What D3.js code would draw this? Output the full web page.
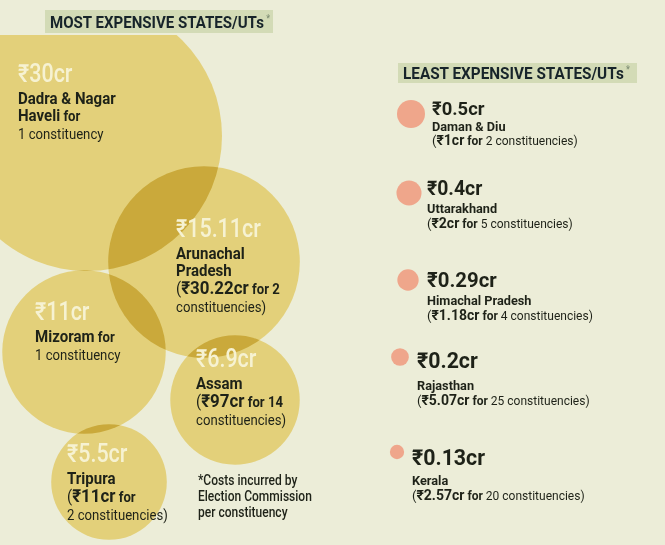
<!DOCTYPE html>
<html>
<head>
<meta charset="utf-8">
<script src="https://cdnjs.cloudflare.com/ajax/libs/d3/7.8.5/d3.min.js"></script>
<style>
  body { margin: 0; background: #ecedd8; }
  svg { display: block; font-family: Roboto, "Noto Sans", sans-serif; }
</style>
</head>
<body>
<div id="chart"></div>
<script>
const width = 665;
const height = 545;

// most expensive states/UTs: cost per constituency (₹ crore)
const bigStates = ["Dadra & Nagar Haveli", "Arunachal Pradesh", "Mizoram", "Assam", "Tripura"];
const bigCost = [30, 15.11, 11, 6.9, 5.5];
const bigTotal = [30, 30.22, 11, 97, 11];
const bigSeats = [1, 2, 1, 14, 2];

// least expensive states/UTs
const smallStates = ["Daman & Diu", "Uttarakhand", "Himachal Pradesh", "Rajasthan", "Kerala"];
const smallCost = [0.5, 0.4, 0.29, 0.2, 0.13];
const smallTotal = [1, 2, 1.18, 5.07, 2.57];
const smallSeats = [2, 5, 4, 25, 20];

// hand placed layout (where the bubbles sit, where labels go)
const bigLayout = [
  { cx: 87, cy: 136, lx: 18, ly: 82, nameLines: ["Dadra & Nagar", "Haveli"], style: "single" },
  { cx: 204, cy: 262, lx: 176, ly: 237, nameLines: ["Arunachal", "Pradesh"], style: "split" },
  { cx: 84, cy: 352, lx: 35, ly: 320, nameLines: ["Mizoram"], style: "single" },
  { cx: 235, cy: 400, lx: 196, ly: 367, nameLines: ["Assam"], style: "split" },
  { cx: 109, cy: 482, lx: 67, ly: 462, nameLines: ["Tripura"], style: "split2" }
];
const smallLayout = [
  { cx: 411, cy: 114, lx: 432, ys: [115, 131, 145], vSize: 19 },
  { cx: 409, cy: 193, lx: 427, ys: [195, 213, 228], vSize: 20 },
  { cx: 408, cy: 280, lx: 427, ys: [287, 305, 320], vSize: 21 },
  { cx: 400, cy: 357, lx: 417, ys: [368, 390, 405], vSize: 22 },
  { cx: 397, cy: 452, lx: 412, ys: [465, 485, 500], vSize: 22 }
];

const dark = "#1e2218";
const light = "#f6f2d2";
const fmt = v => `₹${v}cr`;
const seatsText = n => n === 1 ? `${n} constituency` : `${n} constituencies`;

const rBig = d3.scaleSqrt().domain([0, d3.max(bigCost)]).range([0, 135]);
const rSmall = d3.scaleSqrt().domain([0, d3.max(smallCost)]).range([0, 14]);

const svg = d3.select("#chart")
  .append("svg")
  .attr("width", width)
  .attr("height", height);

svg.append("rect")
  .attr("width", width)
  .attr("height", height)
  .attr("fill", "#ecedd8");

svg.append("clipPath")
  .attr("id", "clipBig")
  .append("rect")
  .attr("x", 0)
  .attr("y", 35)
  .attr("width", width)
  .attr("height", height - 35);

const bubbles = svg.append("g")
  .attr("clip-path", "url(#clipBig)")
  .style("isolation", "isolate");

bubbles.selectAll("circle")
  .data(bigCost)
  .join("circle")
  .attr("cx", (d, i) => bigLayout[i].cx)
  .attr("cy", (d, i) => bigLayout[i].cy)
  .attr("r", d => rBig(d))
  .attr("fill", "#e3d07a")
  .style("mix-blend-mode", "multiply");

// one line of text, parts = [{text, size, weight, fill}]
function addLine(g, x, y, parts, sx) {
  const t = g.append("text")
    .attr("transform", `translate(${x},${y}) scale(${sx},1)`);
  parts.forEach(p => {
    t.append("tspan")
      .attr("font-size", p.size)
      .attr("font-weight", p.weight || 400)
      .attr("fill", p.fill || dark)
      .text(p.text);
  });
  return t;
}

const labels = svg.append("g");

bigCost.forEach((v, i) => {
  const L = bigLayout[i];
  let y = L.ly;
  addLine(labels, L.lx, y, [{ text: fmt(v), size: 25, weight: 500, fill: light }], 0.86);
  y += 22;
  L.nameLines.forEach((n, j) => {
    const last = j === L.nameLines.length - 1;
    const parts = [{ text: n, size: 16, weight: 700 }];
    if (last && L.style === "single") parts.push({ text: " for", size: 14, weight: 700 });
    addLine(labels, L.lx, y, parts, 0.94);
    y += last ? 18 : 17;
  });
  if (L.style === "single") {
    addLine(labels, L.lx, y, [{ text: seatsText(bigSeats[i]), size: 14 }], 0.94);
  } else if (L.style === "split") {
    addLine(labels, L.lx, y, [
      { text: "(", size: 16 },
      { text: fmt(bigTotal[i]), size: 18, weight: 700 },
      { text: ` for ${bigSeats[i]}`, size: 14, weight: 700 }
    ], 0.94);
    y += 18;
    addLine(labels, L.lx, y, [{ text: "constituencies)", size: 14 }], 0.94);
  } else {
    addLine(labels, L.lx, y, [
      { text: "(", size: 16 },
      { text: fmt(bigTotal[i]), size: 18, weight: 700 },
      { text: " for", size: 14, weight: 700 }
    ], 0.94);
    y += 18;
    addLine(labels, L.lx, y, [{ text: seatsText(bigSeats[i]) + ")", size: 14 }], 0.94);
  }
});

// footnote
const note = ["*Costs incurred by", "Election Commission", "per constituency"];
note.forEach((n, i) => {
  addLine(labels, 198, 485 + i * 16, [{ text: n, size: 14, weight: 500 }], 0.86);
});

// least expensive list
const list = svg.append("g");
list.selectAll("circle")
  .data(smallCost)
  .join("circle")
  .attr("cx", (d, i) => smallLayout[i].cx)
  .attr("cy", (d, i) => smallLayout[i].cy)
  .attr("r", d => rSmall(d))
  .attr("fill", "#efa68b");

smallCost.forEach((v, i) => {
  const L = smallLayout[i];
  addLine(list, L.lx, L.ys[0], [{ text: fmt(v), size: L.vSize, weight: 700 }], 0.97);
  addLine(list, L.lx, L.ys[1], [{ text: smallStates[i], size: 13, weight: 700 }], 0.98);
  addLine(list, L.lx, L.ys[2], [
    { text: "(", size: 13 },
    { text: fmt(smallTotal[i]), size: 14, weight: 700 },
    { text: " for ", size: 12, weight: 700 },
    { text: seatsText(smallSeats[i]) + ")", size: 12 }
  ], 1);
});

// header boxes, the star sits in the same text as a superscript
function header(x, y, w, h, label, tx, ty, tw) {
  const g = svg.append("g");
  g.append("rect")
    .attr("x", x).attr("y", y)
    .attr("width", w).attr("height", h)
    .attr("fill", "#d3dbb6");
  const t = g.append("text")
    .attr("x", tx).attr("y", ty)
    .attr("font-weight", 700)
    .attr("textLength", tw)
    .attr("lengthAdjust", "spacingAndGlyphs");
  t.append("tspan")
    .attr("font-size", 17)
    .attr("fill", "#17242a")
    .text(label);
  t.append("tspan")
    .attr("font-size", 10)
    .attr("font-weight", 400)
    .attr("fill", "#7a8a70")
    .attr("dy", -6)
    .text(" *");
}
header(45, 10, 228, 23, "MOST EXPENSIVE STATES/UTs", 50, 28, 220);
header(398, 63, 239, 20, "LEAST EXPENSIVE STATES/UTs", 403, 79, 227);
</script>
</body>
</html>
